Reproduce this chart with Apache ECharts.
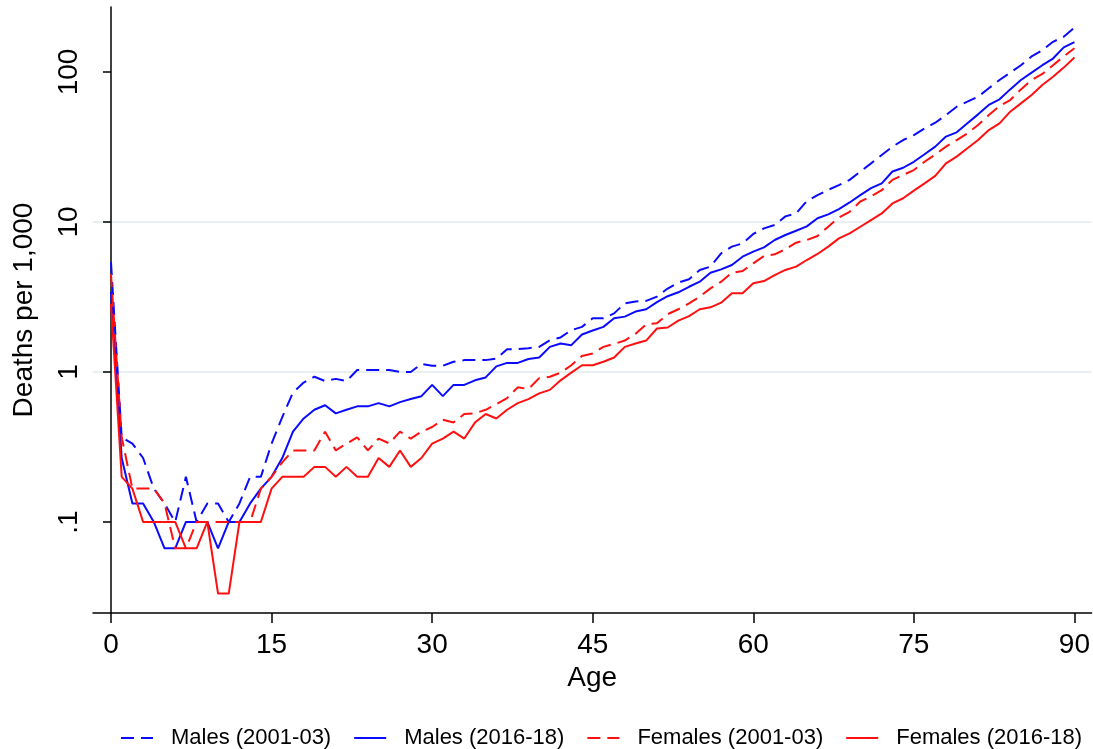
<!DOCTYPE html>
<html>
<head>
<meta charset="utf-8">
<script src="https://cdn.jsdelivr.net/npm/echarts@6/dist/echarts.min.js"></script>
<style>
  html, body { margin: 0; padding: 0; background: #ffffff; }
  #chart { width: 1093px; height: 749px; }
</style>
</head>
<body>
<div id="chart"></div>
<script>
// Single-year ages
const ages = [0,1,2,3,4,5,6,7,8,9,10,11,12,13,14,15,16,17,18,19,20,21,22,23,24,25,26,27,28,29,30,
  31,32,33,34,35,36,37,38,39,40,41,42,43,44,45,46,47,48,49,50,51,52,53,54,55,56,57,58,59,60,
  61,62,63,64,65,66,67,68,69,70,71,72,73,74,75,76,77,78,79,80,81,82,83,84,85,86,87,88,89,90];

// Deaths per 1,000 by single year of age
const males2001 = [5.4,0.367,0.333,0.267,0.167,0.133,0.1,0.2,0.1,0.133,0.133,0.1,0.133,0.2,0.2,0.333,
  0.5,0.73,0.85,0.93,0.87,0.9,0.87,1.03,1.03,1.03,1.03,1.0,1.0,1.13,1.1,
  1.1,1.17,1.2,1.2,1.2,1.23,1.42,1.42,1.44,1.47,1.63,1.7,1.9,2.0,2.28,
  2.28,2.46,2.87,2.95,2.98,3.18,3.6,3.95,4.15,4.79,5.04,6.18,6.85,7.2,8.32,
  9.07,9.55,10.9,11.4,13.8,15.1,16.4,17.6,19.1,21.7,24.6,28,31.8,35.2,38,
  42.1,45.9,51.7,58.7,63.4,68.5,77.9,88.5,99,111,127,140,159,172,198];

const males2016 = [3.4,0.267,0.133,0.133,0.1,0.0667,0.0667,0.1,0.1,0.1,0.0667,0.1,0.1,0.133,0.167,0.2,
  0.267,0.4,0.49,0.56,0.6,0.53,0.56,0.59,0.59,0.62,0.59,0.63,0.66,0.69,0.82,
  0.69,0.82,0.82,0.88,0.92,1.09,1.15,1.15,1.22,1.25,1.47,1.55,1.51,1.78,1.89,
  2.0,2.28,2.34,2.53,2.62,2.92,3.2,3.4,3.7,4.0,4.59,4.83,5.17,5.87,6.34,
  6.78,7.59,8.19,8.75,9.35,10.6,11.25,12.2,13.5,15.1,16.8,18.1,21.7,23.0,25.2,
  28.3,31.8,37.1,39.6,45.5,52.2,60.3,65.8,76.6,88.5,99,111,123,146,158];

const females2001 = [4.5,0.367,0.167,0.167,0.167,0.133,0.0667,0.0667,0.1,0.1,0.1,0.1,0.1,0.1,0.167,0.2,
  0.25,0.3,0.3,0.3,0.4,0.3,0.333,0.367,0.3,0.36,0.334,0.4,0.36,0.4,0.43,
  0.48,0.46,0.525,0.53,0.56,0.61,0.67,0.79,0.77,0.91,0.93,0.99,1.11,1.28,1.33,
  1.47,1.54,1.62,1.8,2.08,2.11,2.43,2.62,2.87,3.18,3.61,4.0,4.59,4.71,5.3,
  5.93,6.09,6.58,7.28,7.59,8.07,9.31,10.7,11.7,13.7,14.8,16.3,19.1,20.6,22.2,
  25.2,28.2,31.8,35.2,39,44.3,51.7,59.3,65,76.6,88.5,97,111,127,144];

const females2016 = [2.85,0.2,0.167,0.1,0.1,0.1,0.1,0.0667,0.0667,0.1,0.0333,0.0333,0.1,0.1,0.1,0.167,
  0.2,0.2,0.2,0.233,0.233,0.2,0.233,0.2,0.2,0.267,0.233,0.3,0.233,0.267,0.333,
  0.36,0.4,0.36,0.46,0.525,0.49,0.56,0.62,0.66,0.72,0.76,0.88,0.99,1.11,1.11,
  1.17,1.25,1.47,1.55,1.62,1.95,1.98,2.2,2.36,2.62,2.7,2.9,3.35,3.35,3.9,
  4.04,4.43,4.79,5.04,5.58,6.12,6.85,7.78,8.4,9.3,10.3,11.4,13.3,14.4,16.2,
  18.1,20.3,24.6,27.3,31,35.2,41,45.5,54.4,61.8,70.3,81.9,93,107,125];

const seriesNames = ['Males (2001-03)', 'Males (2016-18)', 'Females (2001-03)', 'Females (2016-18)'];

// Axis ticks
const ageTicks = [0, 15, 30, 45, 60, 75, 90];
const rateTicks = [0.1, 1, 10, 100];
const rateTickLabels = ['.1', '1', '10', '100'];

const FONT = "'Liberation Sans', Arial, Helvetica, sans-serif";
const BLUE = '#0a0aff';
const RED = '#ff0f0f';
const DASH = [13, 7];

function pairs(values) {
  return ages.map((a, i) => [a, values[i]]);
}

function lineSeries(name, values, color, dashed) {
  return {
    name: name,
    type: 'line',
    data: pairs(values),
    symbol: 'none',
    smooth: false,
    animation: false,
    lineStyle: { color: color, width: 2, type: dashed ? DASH : 'solid' },
    itemStyle: { color: color }
  };
}

const chart = echarts.init(document.getElementById('chart'), null, { renderer: 'canvas' });

chart.setOption({
  backgroundColor: '#ffffff',
  animation: false,
  grid: { left: 93, top: 7, right: 0, bottom: 136, containLabel: false },
  legend: {
    left: 115,
    top: 722,
    itemWidth: 32,
    itemHeight: 14,
    itemGap: 22,
    itemStyle: { opacity: 0 },
    lineStyle: { width: 2 },
    textStyle: { fontFamily: FONT, fontSize: 22, color: '#000', padding: [0, 0, 0, 13] },
    data: seriesNames
  },
  xAxis: {
    type: 'value',
    min: -1.68,
    max: 91.6,
    name: 'Age',
    nameLocation: 'middle',
    nameGap: 46,
    nameTextStyle: { fontFamily: FONT, fontSize: 28, color: '#000' },
    axisLine: { show: true, onZero: false, lineStyle: { color: '#000', width: 1.5 } },
    axisTick: { show: true, length: 10, customValues: ageTicks, lineStyle: { color: '#000', width: 1.5 } },
    axisLabel: { customValues: ageTicks, margin: 18, fontFamily: FONT, fontSize: 28, color: '#000' },
    splitLine: { show: false }
  },
  yAxis: {
    type: 'log',
    logBase: 10,
    min: 0.02473,
    max: 271.3,
    name: 'Deaths per 1,000',
    nameLocation: 'middle',
    nameRotate: 90,
    nameGap: 55,
    nameTextStyle: { fontFamily: FONT, fontSize: 28, color: '#000' },
    axisLine: { show: true, lineStyle: { color: '#000', width: 1.5 } },
    axisTick: { show: true, length: 8, customValues: rateTicks, lineStyle: { color: '#000', width: 1.5 } },
    axisLabel: {
      customValues: rateTicks,
      rotate: 90,
      margin: 10,
      fontFamily: FONT,
      fontSize: 28,
      color: '#000',
      formatter: function (v) {
        const i = rateTicks.findIndex(t => Math.abs(Math.log10(t) - Math.log10(v)) < 1e-6);
        return i >= 0 ? rateTickLabels[i] : '';
      }
    },
    splitLine: { show: true, showMinLine: false, showMaxLine: false, lineStyle: { color: '#e8f0f2', width: 2 } },
    minorTick: { show: false },
    minorSplitLine: { show: false }
  },
  series: [
    lineSeries(seriesNames[0], males2001, BLUE, true),
    lineSeries(seriesNames[1], males2016, BLUE, false),
    lineSeries(seriesNames[2], females2001, RED, true),
    lineSeries(seriesNames[3], females2016, RED, false)
  ]
});
</script>
</body>
</html>
